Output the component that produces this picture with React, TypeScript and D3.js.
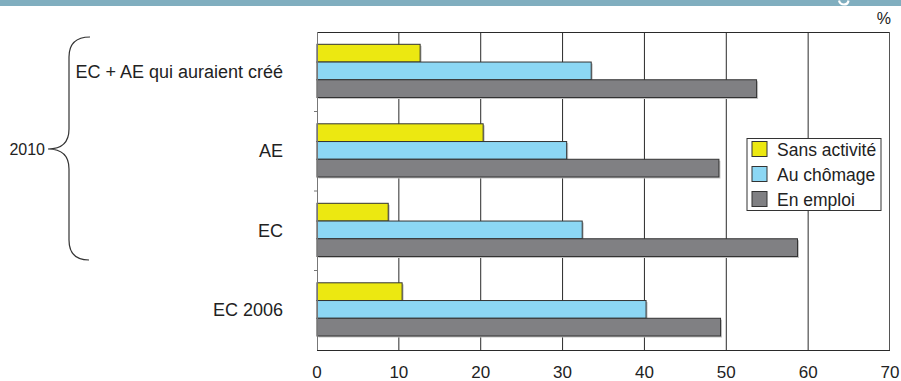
import React from "react";
import * as d3 from "d3";

const categories = ["EC + AE qui auraient créé", "AE", "EC", "EC 2006"];
const seriesNames = ["Sans activité", "Au chômage", "En emploi"];
const sansActivite = [12.6, 20.3, 8.7, 10.4];
const auChomage = [33.5, 30.5, 32.4, 40.2];
const enEmploi = [53.7, 49.1, 58.7, 49.3];
const xTicks = [0, 10, 20, 30, 40, 50, 60, 70];
const colors = ["#ece811", "#8cd7f4", "#808083"];

const W = 901;
const H = 381;
const FONT = "'Liberation Sans', Arial, sans-serif";

export default function App() {
  const left = 317;
  const right = 890;
  const top = 32;
  const bottom = 350;
  const x = d3.scaleLinear().domain([0, 70]).range([left, right]);
  const y = d3.scaleBand<string>().domain(categories).range([top, bottom]).padding(0);
  const sub = d3.scaleBand<string>().domain(seriesNames).range([12.3, 65.5]).padding(0);
  const values = [sansActivite, auChomage, enEmploi];
  const bw = y.bandwidth();

  const bracePath = "M90,37 Q69,37 69,57 L69,129 Q69,149 48,149 Q69,149 69,169 L69,240 Q69,260 89,260";

  return (
    <svg width={W} height={H} style={{ position: "absolute", left: 0, top: 0, background: "#fff" }} fontFamily={FONT}>
      <rect x={0} y={0} width={W} height={6} fill="#80aebf" />
      <path d="M839,0.5 Q840,4.5 844,4.5 Q848,4.5 848.5,0.5" fill="none" stroke="#fff" strokeWidth={2.2} />

      {/* grid lines */}
      {xTicks.slice(1, -1).map((t) => (
        <line key={t} x1={x(t)} x2={x(t)} y1={top} y2={bottom} stroke="#2a2a2a" strokeWidth={1} />
      ))}
      <line x1={left} x2={right} y1={top + 0.5} y2={top + 0.5} stroke="#2a2a2a" />
      <line x1={right - 0.5} x2={right - 0.5} y1={top} y2={bottom} stroke="#555" />

      {/* bars */}
      {categories.map((c, ci) => (
        <g key={c}>
          {seriesNames.map((s, si) => {
            const v = values[si][ci];
            const by = (y(c) as number) + (sub(s) as number);
            const h = sub.bandwidth();
            return (
              <g key={s}>
                <rect x={x(0) + 1.5} y={by + 1.5} width={x(v) - x(0)} height={h} fill="#c4c4c4" />
                <rect x={x(0)} y={by} width={x(v) - x(0)} height={h} fill={colors[si]} stroke="#333" strokeWidth={1} />
              </g>
            );
          })}
        </g>
      ))}

      {/* axes */}
      <line x1={left + 0.5} x2={left + 0.5} y1={top} y2={bottom} stroke="#777" />
      <line x1={left} x2={right} y1={bottom + 0.5} y2={bottom + 0.5} stroke="#2a2a2a" />
      {categories.slice(1).map((c) => (
        <line key={c} x1={left - 3} x2={left} y1={(y(c) as number)} y2={(y(c) as number)} stroke="#777" />
      ))}
      {xTicks.map((t) => (
        <text key={t} x={x(t)} y={378} textAnchor="middle" fontSize={17} fill="#222">{t}</text>
      ))}
      {categories.map((c) => (
        <text key={c} x={283} y={(y(c) as number) + bw / 2 + 6} textAnchor="end" fontSize={18} fill="#222">{c}</text>
      ))}
      <text x={891} y={24} textAnchor="end" fontSize={16} fill="#222">%</text>

      {/* brace */}
      <path d={bracePath} fill="none" stroke="#333" strokeWidth={1.2} />
      <text x={45} y={155} textAnchor="end" fontSize={16} fill="#222">2010</text>

      {/* legend */}
      <rect x={747} y={138.5} width={134} height={72} fill="#fff" stroke="#333" />
      {seriesNames.map((s, i) => (
        <g key={s}>
          <rect x={752} y={141.5 + i * 25} width={15} height={15} fill={colors[i]} stroke="#333" />
          <text x={777} y={156 + i * 25} fontSize={17.5} fill="#222">{s}</text>
        </g>
      ))}
    </svg>
  );
}
